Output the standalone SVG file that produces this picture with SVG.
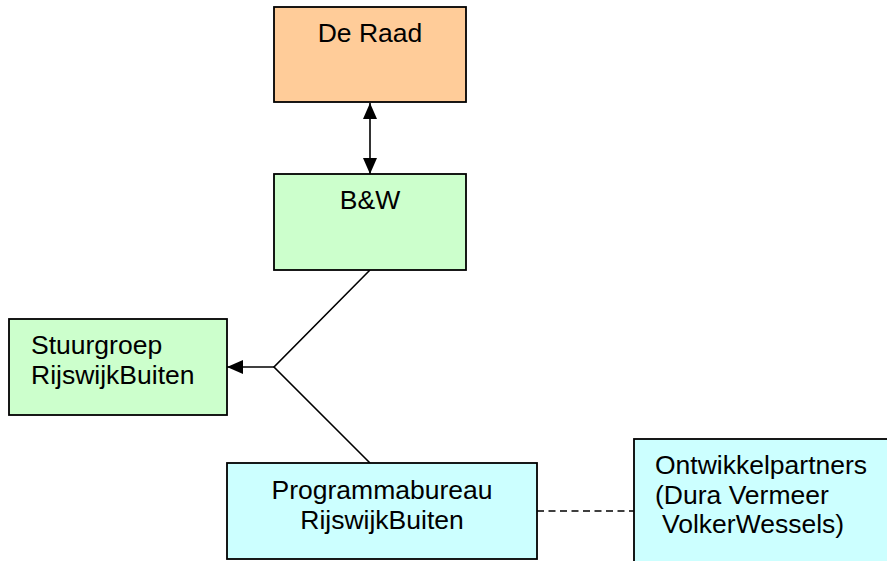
<svg xmlns="http://www.w3.org/2000/svg" width="887" height="561" viewBox="0 0 887 561">
<style>
.box{stroke:#000;stroke-width:1.8}
.peach{fill:#FFCC99}
.green{fill:#CCFFCC}
.cyan{fill:#CCFFFF}
.t{font-family:"Liberation Sans",Arial,sans-serif;font-size:26.5px;fill:#000}
.c{text-anchor:middle}
.ln{stroke:#000;stroke-width:1.6;fill:none}
</style>
<defs>
<marker id="ah" viewBox="0 0 16 14" refX="16" refY="7" markerWidth="16" markerHeight="14" markerUnits="userSpaceOnUse" orient="auto-start-reverse">
<path d="M0,0 L16,7 L0,14 z" fill="#000"/>
</marker>
</defs>
<rect width="887" height="561" fill="#fff"/>
<g id="connectors">
<line class="ln" x1="370" y1="103" x2="370" y2="174" marker-start="url(#ah)" marker-end="url(#ah)"/>
<polyline class="ln" points="370,270 274,367 370,463"/>
<line class="ln" x1="274" y1="367" x2="227" y2="367" marker-end="url(#ah)"/>
<line class="ln" x1="537" y1="511" x2="634" y2="511" stroke-dasharray="7,4.5"/>
</g>
<g id="de-raad">
<rect class="box peach" x="274" y="7" width="192" height="95"/>
<text class="t c" x="370" y="42">De Raad</text>
</g>
<g id="b-en-w">
<rect class="box green" x="274" y="174" width="192" height="96"/>
<text class="t c" x="370" y="209">B&amp;W</text>
</g>
<g id="stuurgroep">
<rect class="box green" x="9" y="319" width="218" height="96"/>
<text class="t" x="31" y="354">Stuurgroep</text>
<text class="t" x="31" y="384">RijswijkBuiten</text>
</g>
<g id="programmabureau">
<rect class="box cyan" x="227" y="463" width="310" height="96"/>
<text class="t c" x="382" y="499">Programmabureau</text>
<text class="t c" x="382" y="529">RijswijkBuiten</text>
</g>
<g id="ontwikkelpartners">
<rect class="box cyan" x="634" y="439" width="260" height="130"/>
<text class="t" x="655" y="474">Ontwikkelpartners</text>
<text class="t" x="655" y="504">(Dura Vermeer</text>
<text class="t" x="662" y="533">VolkerWessels)</text>
</g>
</svg>
